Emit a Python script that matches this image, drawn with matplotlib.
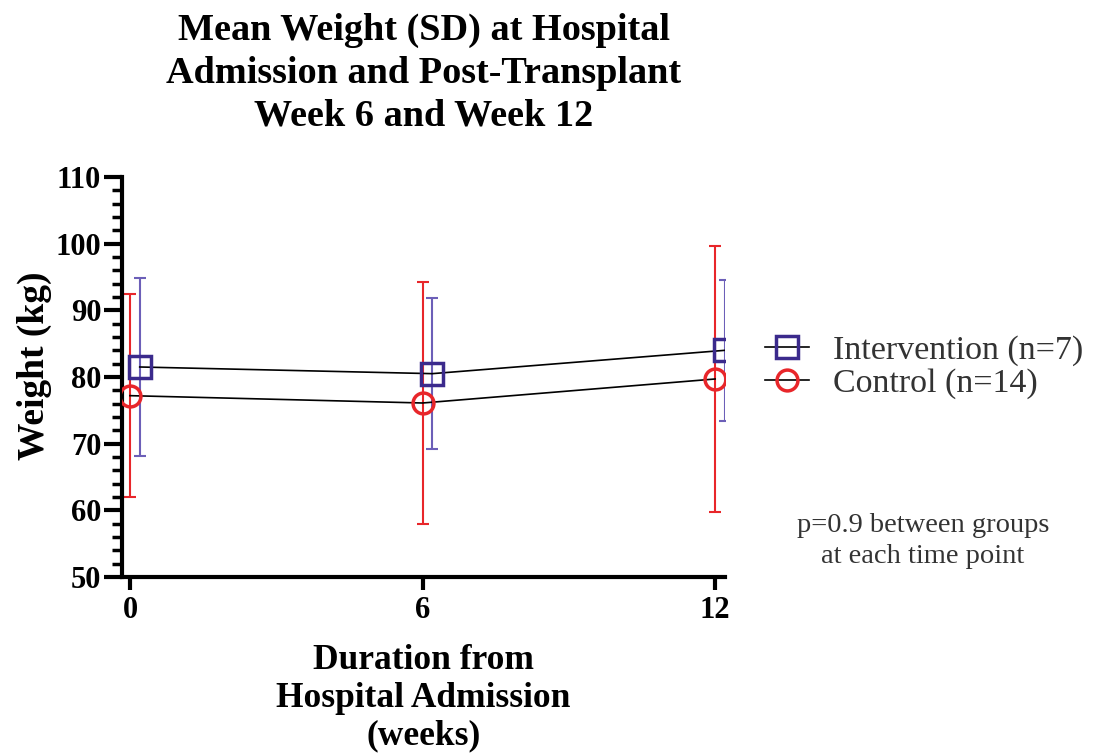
import matplotlib.pyplot as plt
from matplotlib.ticker import MultipleLocator
import numpy as np

weeks = np.array([0, 6, 12])
interv_mean = [81.5, 80.5, 84.0]
interv_sd = [13.3, 11.3, 10.6]
control_mean = [77.2, 76.1, 79.7]
control_sd = [15.2, 18.2, 20.0]

plt.rcParams['font.family'] = ['Liberation Serif', 'DejaVu Serif']

fig = plt.figure(figsize=(10.95, 7.53), dpi=100)
ax = fig.add_axes([0.1114, 0.2337, 0.5506, 0.5313])

blue = '#3b2a8c'
blue_err = '#6c5fb8'
red = '#e8262a'

off = 0.2  # intervention is nudged right so the bars don't overlap
ax.errorbar(weeks + off, interv_mean, yerr=interv_sd, fmt='none', ecolor=blue_err,
            elinewidth=1.5, capsize=4, capthick=1.5, zorder=2)
ax.errorbar(weeks, control_mean, yerr=control_sd, fmt='none', ecolor=red,
            elinewidth=1.5, capsize=4, capthick=1.5, zorder=2)
ax.plot(weeks + off, interv_mean, color='black', lw=1.2, marker='s', ms=15.5,
        mfc='none', mec=blue, mew=2.5, zorder=3, label='Intervention (n=7)')
ax.plot(weeks, control_mean, color='black', lw=1.2, marker='o', ms=15,
        mfc='none', mec=red, mew=2.5, zorder=3, label='Control (n=14)')

ax.set_xlim(-0.164, 12.2)
ax.set_ylim(50, 110)
ax.set_xticks(weeks)
ax.yaxis.set_major_locator(MultipleLocator(10))
ax.yaxis.set_minor_locator(MultipleLocator(2))

for s in ['top', 'right']:
    ax.spines[s].set_visible(False)
for s in ['left', 'bottom']:
    ax.spines[s].set_linewidth(3)

ax.tick_params(axis='y', which='major', length=13, width=3, labelsize=22, pad=2)
ax.tick_params(axis='y', which='minor', length=7, width=2.5)
ax.tick_params(axis='x', which='major', length=9, width=3, labelsize=22, pad=5)
for lab in ax.get_xticklabels() + ax.get_yticklabels():
    lab.set_fontweight('bold')

ax.set_ylabel('Weight (kg)', fontsize=27, fontweight='bold')
ax.yaxis.set_label_coords(-0.116, 0.5275)
ax.set_xlabel('Duration from\nHospital Admission\n(weeks)', fontsize=25.5,
              fontweight='bold', labelpad=13, linespacing=1.2)

fig.text(0.387, 0.903, 'Mean Weight (SD) at Hospital\nAdmission and Post-Transplant\nWeek 6 and Week 12',
         ha='center', va='center', fontsize=27.5, fontweight='bold', linespacing=1.29)

leg = ax.legend(loc='center left', bbox_to_anchor=(1.015, 0.525), frameon=False,
                fontsize=24.5, handlelength=1.3, handletextpad=0.7, labelspacing=0.05)
for t in leg.get_texts():
    t.set_color('#333333')

fig.text(0.843, 0.2815, 'p=0.9 between groups\nat each time point', ha='center', va='center',
         fontsize=20.5, color='#333333', linespacing=1.3)

fig.savefig('out.png', dpi=100)
